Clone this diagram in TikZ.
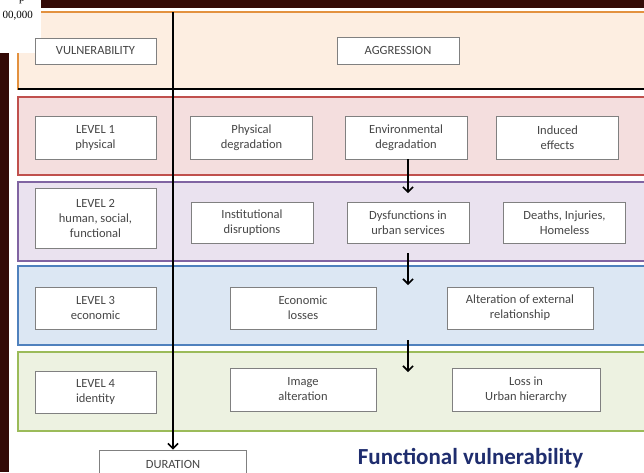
\documentclass[tikz,border=0pt]{standalone}
\usepackage{fontspec}
\setmainfont{Carlito}
\newfontfamily\slidefont{Liberation Serif}
\usetikzlibrary{arrows.meta,positioning}

\definecolor{woodbg}{RGB}{52,10,6}
\definecolor{orgline}{RGB}{227,145,63}
\definecolor{orgfill}{RGB}{253,238,225}
\definecolor{redline}{RGB}{192,80,77}
\definecolor{redfill}{RGB}{244,222,222}
\definecolor{purline}{RGB}{128,100,162}
\definecolor{purfill}{RGB}{234,226,239}
\definecolor{bluline}{RGB}{79,129,189}
\definecolor{blufill}{RGB}{220,231,243}
\definecolor{grnline}{RGB}{155,187,89}
\definecolor{grnfill}{RGB}{237,242,225}
\definecolor{boxtext}{RGB}{70,70,70}
\definecolor{titleblue}{RGB}{31,45,110}

\tikzset{
  band/.style={line width=1.5pt},
  box/.style={draw=gray, line width=0.9pt, fill=white, text=boxtext, align=center, inner sep=0pt, font=\fontsize{12.5}{15}\selectfont},
  levelbox/.style={box, minimum width=121pt, minimum height=42pt},
  midbox/.style={box, minimum width=122pt, minimum height=42pt},
  widebox/.style={box, minimum width=146pt, minimum height=42pt},
  flow/.style={line width=1.6pt, -{Straight Barb[length=5pt,width=10pt]}}
}

\begin{document}
\begin{tikzpicture}[x=1pt,y=-1pt]
\useasboundingbox (0,0) rectangle (644,472);
% slide background
\fill[woodbg] (0,53) rectangle (9,472);
\fill[woodbg] (41,0) rectangle (644,8);

% bands
\draw[band, draw=orgline, fill=orgfill] (18,12) rectangle (660,89);
\draw[line width=2.5pt] (18,89) -- (660,89);
\draw[band, draw=redline, fill=redfill] (18,97) rectangle (660,175);
\draw[band, draw=purline, fill=purfill] (18,182) rectangle (660,261);
\draw[band, draw=bluline, fill=blufill] (18,266) rectangle (660,345);
\draw[band, draw=grnline, fill=grnfill] (18,352) rectangle (660,431);

% corner of the slide above
\fill[white] (0,0) rectangle (41,53);
\node[anchor=base west, inner sep=0pt, font=\slidefont\fontsize{11}{13}\selectfont] (numtop) at (19,1) {p};
\node[anchor=base east, inner sep=0pt, font=\slidefont\fontsize{11}{13}\selectfont] (numbot) at (33,18) {00,000};

% boxes
\node[levelbox, minimum height=26pt] (vul) at (95.5,51) {VULNERABILITY};
\node[midbox, minimum height=27pt] (agg) at (398,50.5) {AGGRESSION};

\node[levelbox, minimum height=43pt] (lv1) at (95.5,137.5) {LEVEL 1\\physical};
\node[midbox, minimum height=43pt] (phys) at (251.5,137.5) {Physical\\degradation};
\node[midbox, minimum height=43pt] (env) at (406,137.5) {Environmental\\degradation};
\node[midbox, minimum height=43pt] (ind) at (557.5,137.5) {Induced\\effects};

\node[levelbox, minimum height=60pt] (lv2) at (95.5,218) {LEVEL 2\\human, social,\\functional};
\node[midbox, minimum height=41pt] (inst) at (252,222.5) {Institutional\\disruptions};
\node[midbox, minimum height=41pt] (dys) at (408,222.5) {Dysfunctions in\\urban services};
\node[midbox, minimum height=41pt] (dea) at (564.5,222.5) {Deaths, Injuries,\\Homeless};

\node[levelbox] (lv3) at (95.5,308) {LEVEL 3\\economic};
\node[widebox] (eco) at (303,308) {Economic\\losses};
\node[widebox] (alt) at (520,308) {Alteration of external\\relationship};

\node[levelbox] (lv4) at (95.5,392) {LEVEL 4\\identity};
\node[widebox, minimum height=43pt] (img) at (303,389.5) {Image\\alteration};
\node[widebox, minimum width=148pt, minimum height=43pt] (los) at (526,389.5) {Loss in\\Urban hierarchy};

\node[box, minimum width=147pt, minimum height=28pt] (dur) at (173,464) {DURATION};

% arrows
\coordinate (axtop) at (173,12);
\draw[flow] (axtop) -- (dur.north);
\draw[flow] (dys.north |- env.south) -- ([yshift=8.5pt]dys.north);
\coordinate (eco1) at (408,253);
\coordinate (eco2) at (408,285);
\draw[flow] (eco1) -- (eco2);
\coordinate (idt1) at (408,340);
\coordinate (idt2) at (408,372);
\draw[flow] (idt1) -- (idt2);

\node[anchor=base, text=titleblue, font=\bfseries\fontsize{23}{26}\selectfont] (title) at (470.5,464) {Functional vulnerability};
\end{tikzpicture}
\end{document}
